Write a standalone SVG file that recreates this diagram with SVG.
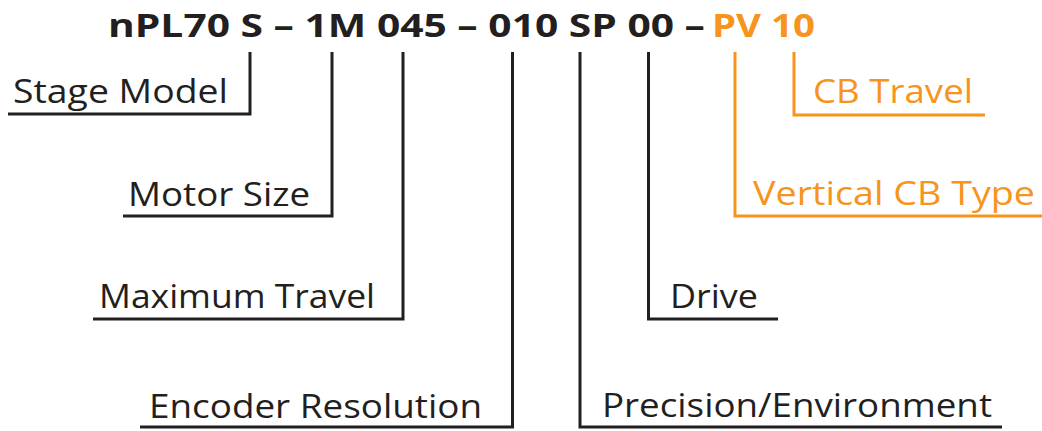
<svg xmlns="http://www.w3.org/2000/svg" width="1042" height="431" viewBox="0 0 1042 431">
<style>
.t{font-family:"Open Sans","Liberation Sans",sans-serif;font-size:32px;font-weight:500;fill:#231F20}
.b{font-weight:700}
.o{fill:#F7941D}
.k{fill:none;stroke:#231F20;stroke-width:3}
.ko{fill:none;stroke:#F7941D;stroke-width:3}
</style>
<rect width="1042" height="431" fill="#ffffff"/>
<g id="title">
<text class="t b" x="108" y="37" textLength="597" lengthAdjust="spacingAndGlyphs">nPL70 S – 1M 045 – 010 SP 00 –</text>
<text class="t b o" x="712" y="37" textLength="103" lengthAdjust="spacingAndGlyphs">PV 10</text>
</g>
<g id="connectors">
<polyline class="k" points="250,52 250,114 8,114"/>
<polyline class="k" points="332,52 332,216 123,216"/>
<polyline class="k" points="403,52 403,319 93,319"/>
<polyline class="k" points="512.5,52 512.5,427 140,427"/>
<polyline class="k" points="580,52 580,427 1002,427"/>
<polyline class="k" points="648.5,52 648.5,319 778,319"/>
<polyline class="ko" points="735,52 735,216 1042,216"/>
<polyline class="ko" points="794,52 794,115 985,115"/>
</g>
<g id="stage-model"><text class="t" x="13" y="103" textLength="215" lengthAdjust="spacingAndGlyphs">Stage Model</text></g>
<g id="motor-size"><text class="t" x="128" y="206" textLength="182" lengthAdjust="spacingAndGlyphs">Motor Size</text></g>
<g id="maximum-travel"><text class="t" x="99" y="308" textLength="276" lengthAdjust="spacingAndGlyphs">Maximum Travel</text></g>
<g id="encoder-resolution"><text class="t" x="149" y="418" textLength="333" lengthAdjust="spacingAndGlyphs">Encoder Resolution</text></g>
<g id="precision-environment"><text class="t" x="602" y="417" textLength="390" lengthAdjust="spacingAndGlyphs">Precision/Environment</text></g>
<g id="drive"><text class="t" x="670" y="308" textLength="88" lengthAdjust="spacingAndGlyphs">Drive</text></g>
<g id="vertical-cb-type"><text class="t o" x="753" y="205" textLength="282" lengthAdjust="spacingAndGlyphs">Vertical CB Type</text></g>
<g id="cb-travel"><text class="t o" x="813" y="103" textLength="160" lengthAdjust="spacingAndGlyphs">CB Travel</text></g>
</svg>
